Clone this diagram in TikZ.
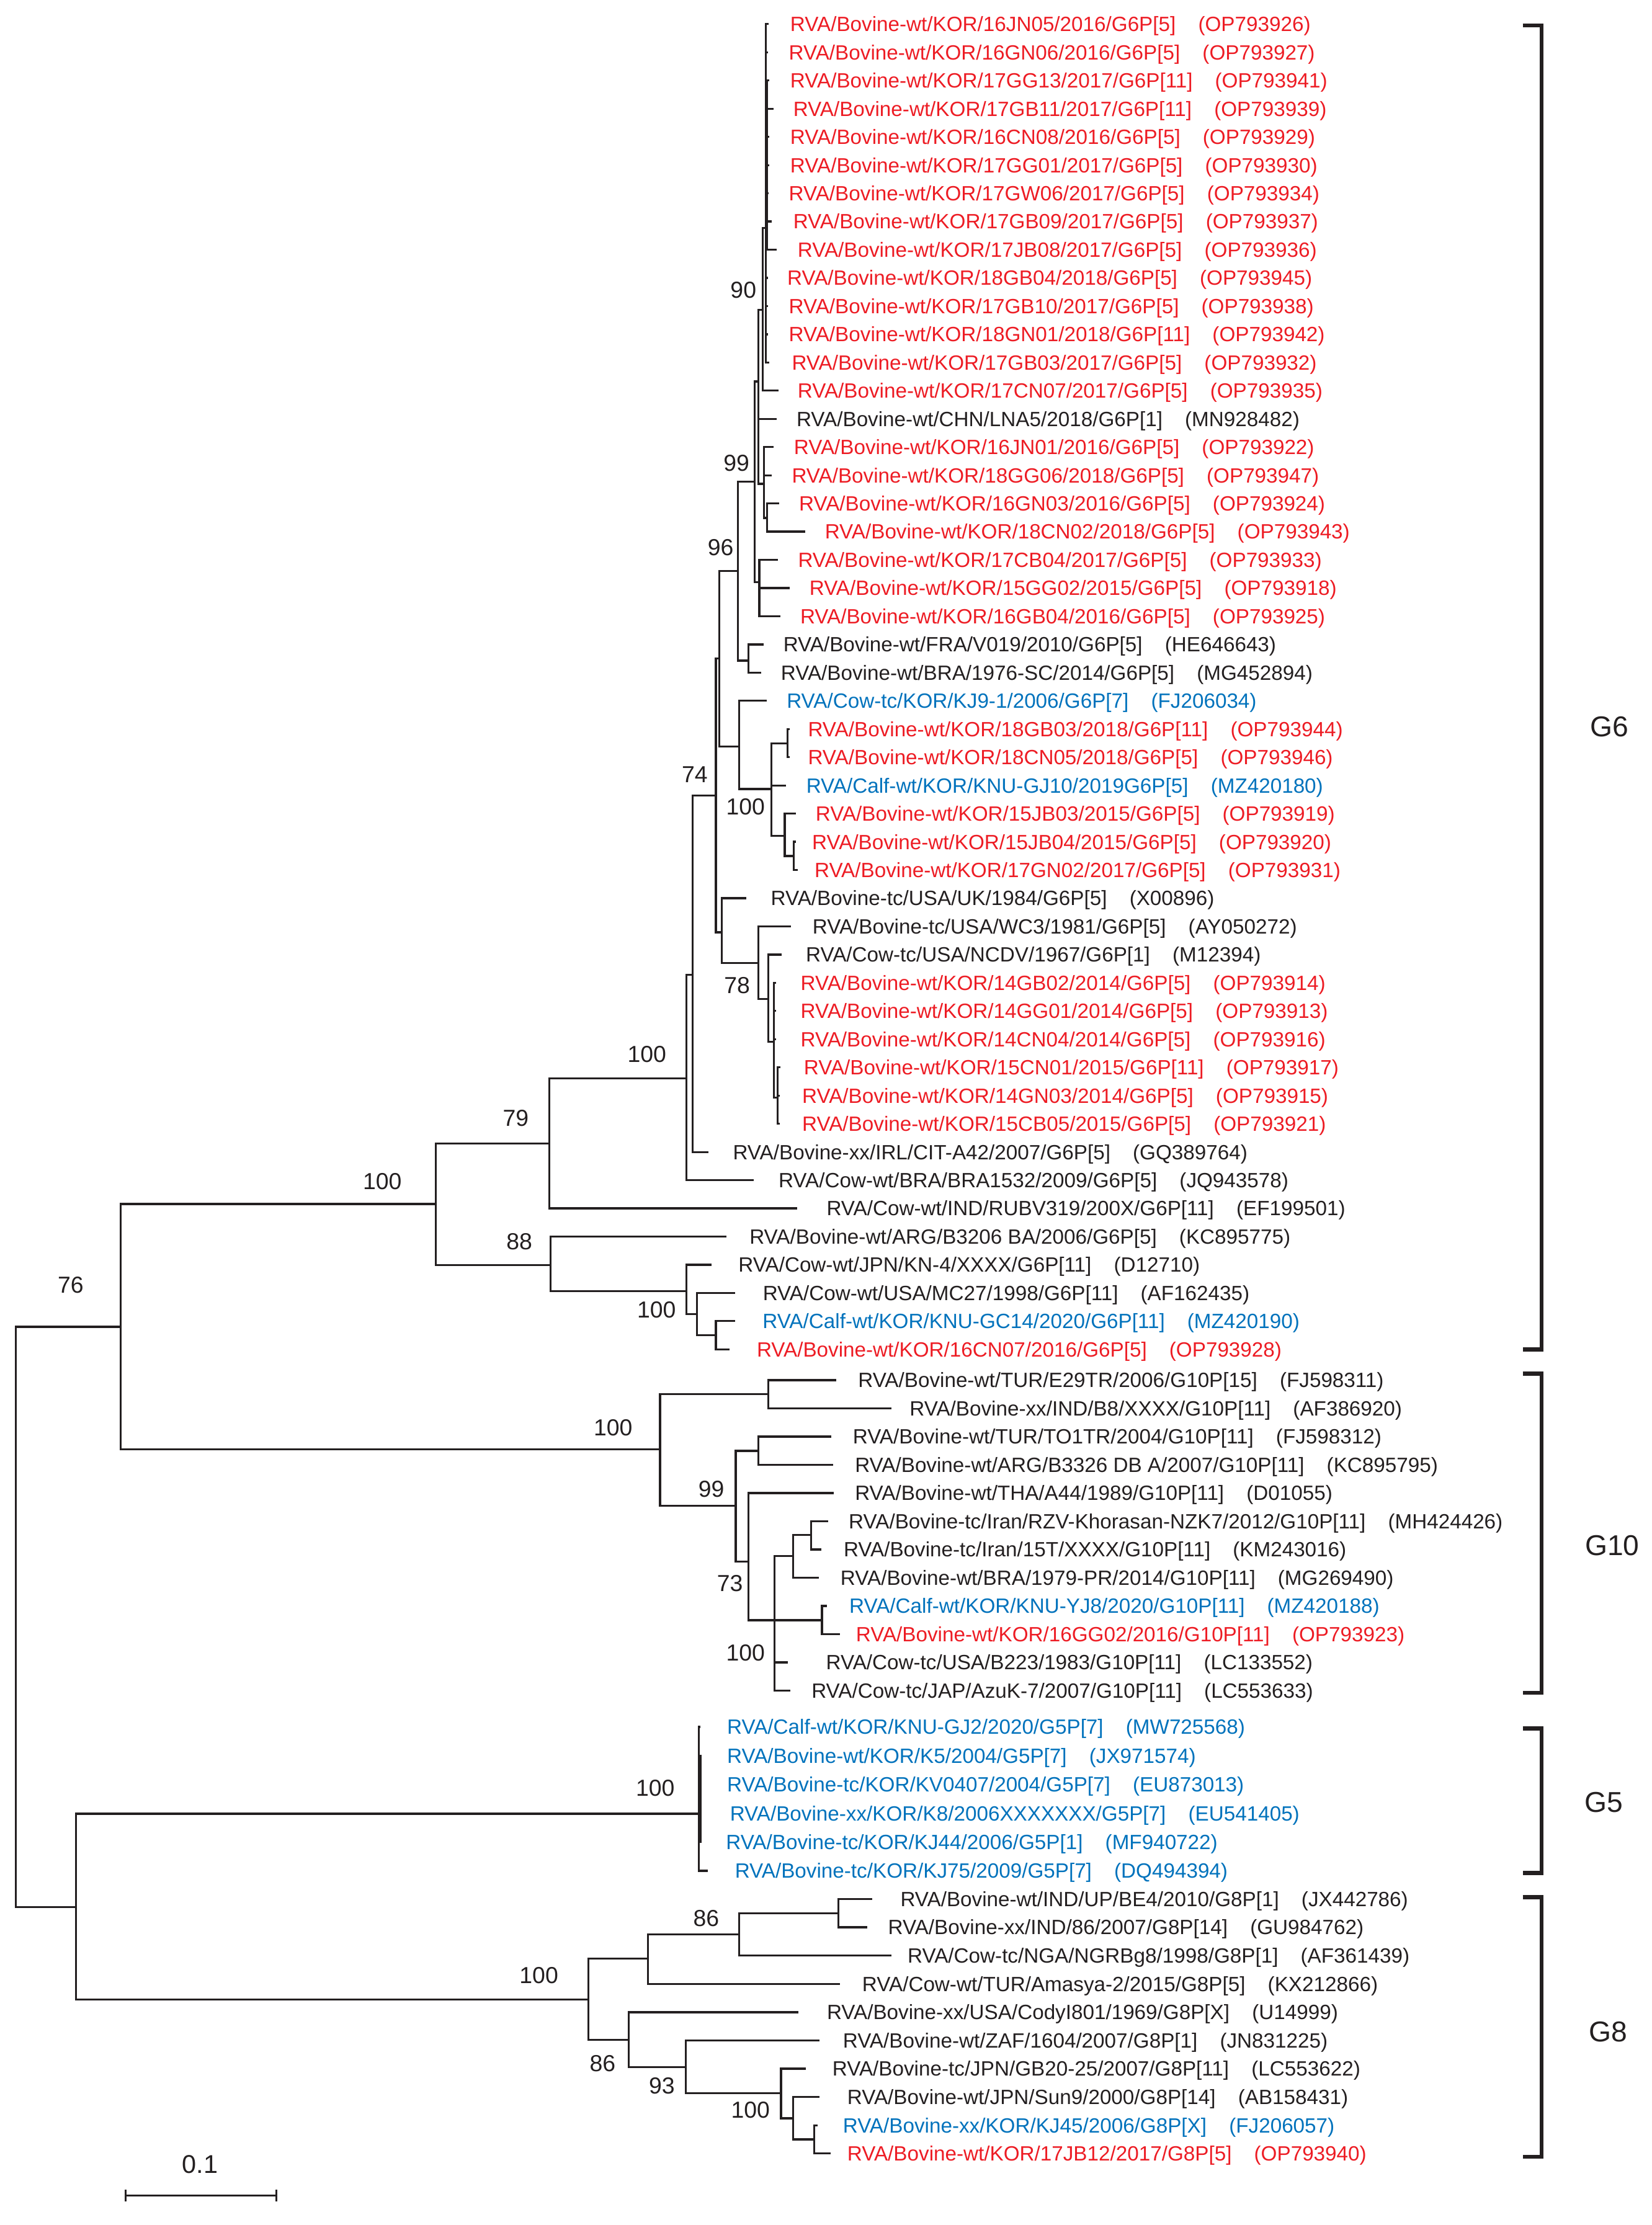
\documentclass[tikz,border=0pt]{standalone}
\usepackage{fontspec}
\setmainfont{Liberation Sans}
\definecolor{rvred}{RGB}{237,28,36}
\definecolor{rvblue}{RGB}{0,114,188}
\definecolor{ink}{RGB}{35,31,32}
\newcommand\leafnode[5]{\node[leaf,text=#2] (n#1) at (#3,0 |- t#1) {#4\hspace{9pt}(#5)};}
\tikzset{
  branch/.style={draw=ink, line width=0.8pt},
  leaf/.style={anchor=base west, inner sep=0pt, outer sep=0pt, yshift=-2.96pt, font=\fontsize{8.27}{9.8}\selectfont},
  boot/.style={inner sep=0pt, text=ink, font=\fontsize{9.3}{11}\selectfont},
  grp/.style={inner sep=0pt, text=ink, font=\fontsize{11.5}{13}\selectfont},
  bracket/.style={draw=ink, line width=1.6pt},
}
\begin{document}
\begin{tikzpicture}[x=0.02cm,y=-0.02cm]
\useasboundingbox (0,0) rectangle (1164,1568);
% internal nodes
\foreach \nm/\x/\y in {R0/11/1139.5, A/85/935, B/307/848.5, C/387/806, D/388/891.5, E/483.7/910, F/491/926, G/504.4/941, I/483.6/760, J/488/687, K/504.4/560.5, LL/508.5/657, M/534.5/678.6, N/541.3/704, O/545.2/734, P/547.8/773.5, Q/507/464, R/520/402.5, S/521/526, T/531.8/339.5, U/527.4/465.5, X1/534.4/268.8, Y/538.4/341, AA/540.5/365, Z/535/410.4, V/537.6/218.5, Va/539.6/160.5, Vb/540.6/116, AB/543.5/556, AC/555.1/524, AD/553/589, AE/559.2/603.2, GA/465.1/1021.5, GB/541.3/982.5, GC/518.4/1061, GD/534.4/1022.4, GE/527.4/1100.4, GF/545.6/1141.8, GG/558.8/1096.5, GI/571.4/1081.8, GH/579.2/1141.8, H/53.5/1344, G5/492.5/1278.2, G5a/493.8/1267, GJ/414.5/1409, GK/456.6/1380.3, GL/521/1363.3, GM/590.8/1348.2, GN/443/1437.5, GO/483.2/1456.6, GP/550.3/1475.2, GQ/558.9/1492.8, GR/573.7/1507.7}
  \coordinate (\nm) at (\x,\y);
% leaf tips
\foreach \nm/\x/\y in {t1/541.7/17.0, t2/541.3/36.87, t3/542/56.74, t4/544.9/76.61, t5/542/96.48, t6/542/116.35, t7/541.8/136.22, t8/544/156.09, t9/547.5/175.96, t10/541.3/195.83, t11/541.3/215.7, t12/541.3/235.57, t13/542/255.44, t14/548.6/275.31, t15/547.1/295.18, t16/545/315.05, t17/544/334.92, t18/549/354.79, t19/567.5/374.66, t20/548.1/394.53, t21/556.3/414.4, t22/550/434.27, t23/538/454.14, t24/536.2/474.01, t25/540.3/493.88, t26/556.5/513.75, t27/556.5/533.62, t28/554/553.49, t29/561/573.36, t30/561/593.23, t31/562/613.1, t32/526/632.97, t33/557.3/652.84, t34/550.7/672.71, t35/547/692.58, t36/547/712.45, t37/547/732.32, t38/550/752.19, t39/549.5/772.06, t40/549.5/791.93, t41/499/811.8, t42/531/831.67, t43/561.7/851.54, t44/511.7/871.41, t45/501.2/891.28, t46/518/911.15, t47/518/931.02, t48/514/950.89, t49/589.4/972.6, t50/628/992.5, t51/585.7/1012.4, t52/587.2/1032.3, t53/587.6/1052.2, t54/583.5/1072.1, t55/578.7/1091.9, t56/577/1111.8, t57/582.8/1131.7, t58/591.8/1151.6, t59/555.1/1171.5, t60/556.9/1191.4, t61/493.5/1217, t62/494.5/1237.3, t63/494.5/1257.5, t64/494.5/1277.8, t65/494.5/1298.1, t66/498.7/1318.4, t67/614.6/1338.3, t68/610.9/1358.2, t69/628/1378.1, t70/591.8/1398.1, t71/562.8/1418, t72/577.6/1437.9, t73/567.8/1457.8, t74/577.6/1477.7, t75/576/1497.7, t76/585.4/1517.6}
  \coordinate (\nm) at (\x,\y);
% branches
\foreach \p/\c in {R0/A, R0/H, A/B, A/GA, B/C, B/D, C/I, C/t43, I/J, I/t42, J/K, J/t41, K/Q, K/LL, LL/t32, LL/M, M/t33, M/N, N/t34, N/O, O/t35, O/t36, O/t37, O/P, P/t38, P/t39, P/t40, Q/R, Q/S, R/T, R/U, U/t23, U/t24, T/X1, T/Z, X1/V, X1/t15, X1/Y, Y/t16, Y/t17, Y/AA, AA/t18, AA/t19, Z/t20, Z/t21, Z/t22, V/Va, V/t14, Va/t1, Va/t2, Va/Vb, Va/t10, Va/t11, Va/t12, Va/t13, Vb/t3, Vb/t4, Vb/t5, Vb/t6, Vb/t7, Vb/t8, Vb/t9, S/t25, S/AB, AB/AC, AB/t28, AB/AD, AC/t26, AC/t27, AD/t29, AD/AE, AE/t30, AE/t31, D/t44, D/E, E/t45, E/F, F/t46, F/G, G/t47, G/t48, GA/GB, GA/GC, GB/t49, GB/t50, GC/GD, GC/GE, GD/t51, GD/t52, GE/t53, GE/GF, GF/GG, GF/GH, GF/t59, GF/t60, GG/GI, GG/t56, GI/t54, GI/t55, GH/t57, GH/t58, H/G5, H/GJ, G5/t61, G5/G5a, G5/t66, G5a/t62, G5a/t63, G5a/t64, G5a/t65, GJ/GK, GJ/GN, GK/GL, GK/t70, GL/GM, GL/t69, GM/t67, GM/t68, GN/t71, GN/GO, GO/t72, GO/GP, GP/t73, GP/GQ, GQ/t74, GQ/GR, GR/t75, GR/t76}
  \draw[branch] (\p) |- (\c);
% leaf labels
\leafnode{1}{rvred}{556.9}{RVA/Bovine-wt/KOR/16JN05/2016/G6P[5]}{OP793926}
\leafnode{2}{rvred}{555.9}{RVA/Bovine-wt/KOR/16GN06/2016/G6P[5]}{OP793927}
\leafnode{3}{rvred}{556.9}{RVA/Bovine-wt/KOR/17GG13/2017/G6P[11]}{OP793941}
\leafnode{4}{rvred}{559}{RVA/Bovine-wt/KOR/17GB11/2017/G6P[11]}{OP793939}
\leafnode{5}{rvred}{556.9}{RVA/Bovine-wt/KOR/16CN08/2016/G6P[5]}{OP793929}
\leafnode{6}{rvred}{556.9}{RVA/Bovine-wt/KOR/17GG01/2017/G6P[5]}{OP793930}
\leafnode{7}{rvred}{555.9}{RVA/Bovine-wt/KOR/17GW06/2017/G6P[5]}{OP793934}
\leafnode{8}{rvred}{559}{RVA/Bovine-wt/KOR/17GB09/2017/G6P[5]}{OP793937}
\leafnode{9}{rvred}{562.1}{RVA/Bovine-wt/KOR/17JB08/2017/G6P[5]}{OP793936}
\leafnode{10}{rvred}{554.8}{RVA/Bovine-wt/KOR/18GB04/2018/G6P[5]}{OP793945}
\leafnode{11}{rvred}{555.9}{RVA/Bovine-wt/KOR/17GB10/2017/G6P[5]}{OP793938}
\leafnode{12}{rvred}{555.9}{RVA/Bovine-wt/KOR/18GN01/2018/G6P[11]}{OP793942}
\leafnode{13}{rvred}{558}{RVA/Bovine-wt/KOR/17GB03/2017/G6P[5]}{OP793932}
\leafnode{14}{rvred}{562.1}{RVA/Bovine-wt/KOR/17CN07/2017/G6P[5]}{OP793935}
\leafnode{15}{ink}{561.3}{RVA/Bovine-wt/CHN/LNA5/2018/G6P[1]}{MN928482}
\leafnode{16}{rvred}{559.5}{RVA/Bovine-wt/KOR/16JN01/2016/G6P[5]}{OP793922}
\leafnode{17}{rvred}{558}{RVA/Bovine-wt/KOR/18GG06/2018/G6P[5]}{OP793947}
\leafnode{18}{rvred}{563.1}{RVA/Bovine-wt/KOR/16GN03/2016/G6P[5]}{OP793924}
\leafnode{19}{rvred}{581.3}{RVA/Bovine-wt/KOR/18CN02/2018/G6P[5]}{OP793943}
\leafnode{20}{rvred}{562.4}{RVA/Bovine-wt/KOR/17CB04/2017/G6P[5]}{OP793933}
\leafnode{21}{rvred}{570.4}{RVA/Bovine-wt/KOR/15GG02/2015/G6P[5]}{OP793918}
\leafnode{22}{rvred}{563.9}{RVA/Bovine-wt/KOR/16GB04/2016/G6P[5]}{OP793925}
\leafnode{23}{ink}{552}{RVA/Bovine-wt/FRA/V019/2010/G6P[5]}{HE646643}
\leafnode{24}{ink}{550.3}{RVA/Bovine-wt/BRA/1976-SC/2014/G6P[5]}{MG452894}
\leafnode{25}{rvblue}{554.4}{RVA/Cow-tc/KOR/KJ9-1/2006/G6P[7]}{FJ206034}
\leafnode{26}{rvred}{569.4}{RVA/Bovine-wt/KOR/18GB03/2018/G6P[11]}{OP793944}
\leafnode{27}{rvred}{569.4}{RVA/Bovine-wt/KOR/18CN05/2018/G6P[5]}{OP793946}
\leafnode{28}{rvblue}{568.2}{RVA/Calf-wt/KOR/KNU-GJ10/2019G6P[5]}{MZ420180}
\leafnode{29}{rvred}{574.8}{RVA/Bovine-wt/KOR/15JB03/2015/G6P[5]}{OP793919}
\leafnode{30}{rvred}{572.3}{RVA/Bovine-wt/KOR/15JB04/2015/G6P[5]}{OP793920}
\leafnode{31}{rvred}{574}{RVA/Bovine-wt/KOR/17GN02/2017/G6P[5]}{OP793931}
\leafnode{32}{ink}{543.2}{RVA/Bovine-tc/USA/UK/1984/G6P[5]}{X00896}
\leafnode{33}{ink}{572.6}{RVA/Bovine-tc/USA/WC3/1981/G6P[5]}{AY050272}
\leafnode{34}{ink}{567.9}{RVA/Cow-tc/USA/NCDV/1967/G6P[1]}{M12394}
\leafnode{35}{rvred}{564.2}{RVA/Bovine-wt/KOR/14GB02/2014/G6P[5]}{OP793914}
\leafnode{36}{rvred}{564.2}{RVA/Bovine-wt/KOR/14GG01/2014/G6P[5]}{OP793913}
\leafnode{37}{rvred}{564.2}{RVA/Bovine-wt/KOR/14CN04/2014/G6P[5]}{OP793916}
\leafnode{38}{rvred}{566.5}{RVA/Bovine-wt/KOR/15CN01/2015/G6P[11]}{OP793917}
\leafnode{39}{rvred}{565.3}{RVA/Bovine-wt/KOR/14GN03/2014/G6P[5]}{OP793915}
\leafnode{40}{rvred}{565.3}{RVA/Bovine-wt/KOR/15CB05/2015/G6P[5]}{OP793921}
\leafnode{41}{ink}{516.5}{RVA/Bovine-xx/IRL/CIT-A42/2007/G6P[5]}{GQ389764}
\leafnode{42}{ink}{548.6}{RVA/Cow-wt/BRA/BRA1532/2009/G6P[5]}{JQ943578}
\leafnode{43}{ink}{582.5}{RVA/Cow-wt/IND/RUBV319/200X/G6P[11]}{EF199501}
\leafnode{44}{ink}{528.2}{RVA/Bovine-wt/ARG/B3206 BA/2006/G6P[5]}{KC895775}
\leafnode{45}{ink}{520.4}{RVA/Cow-wt/JPN/KN-4/XXXX/G6P[11]}{D12710}
\leafnode{46}{ink}{537.6}{RVA/Cow-wt/USA/MC27/1998/G6P[11]}{AF162435}
\leafnode{47}{rvblue}{537.4}{RVA/Calf-wt/KOR/KNU-GC14/2020/G6P[11]}{MZ420190}
\leafnode{48}{rvred}{533.3}{RVA/Bovine-wt/KOR/16CN07/2016/G6P[5]}{OP793928}
\leafnode{49}{ink}{604.7}{RVA/Bovine-wt/TUR/E29TR/2006/G10P[15]}{FJ598311}
\leafnode{50}{ink}{641}{RVA/Bovine-xx/IND/B8/XXXX/G10P[11]}{AF386920}
\leafnode{51}{ink}{601}{RVA/Bovine-wt/TUR/TO1TR/2004/G10P[11]}{FJ598312}
\leafnode{52}{ink}{602.5}{RVA/Bovine-wt/ARG/B3326 DB A/2007/G10P[11]}{KC895795}
\leafnode{53}{ink}{602.5}{RVA/Bovine-wt/THA/A44/1989/G10P[11]}{D01055}
\leafnode{54}{ink}{598.1}{RVA/Bovine-tc/Iran/RZV-Khorasan-NZK7/2012/G10P[11]}{MH424426}
\leafnode{55}{ink}{594.5}{RVA/Bovine-tc/Iran/15T/XXXX/G10P[11]}{KM243016}
\leafnode{56}{ink}{592.3}{RVA/Bovine-wt/BRA/1979-PR/2014/G10P[11]}{MG269490}
\leafnode{57}{rvblue}{598.5}{RVA/Calf-wt/KOR/KNU-YJ8/2020/G10P[11]}{MZ420188}
\leafnode{58}{rvred}{603.2}{RVA/Bovine-wt/KOR/16GG02/2016/G10P[11]}{OP793923}
\leafnode{59}{ink}{582.1}{RVA/Cow-tc/USA/B223/1983/G10P[11]}{LC133552}
\leafnode{60}{ink}{571.9}{RVA/Cow-tc/JAP/AzuK-7/2007/G10P[11]}{LC553633}
\leafnode{61}{rvblue}{512.4}{RVA/Calf-wt/KOR/KNU-GJ2/2020/G5P[7]}{MW725568}
\leafnode{62}{rvblue}{512.4}{RVA/Bovine-wt/KOR/K5/2004/G5P[7]}{JX971574}
\leafnode{63}{rvblue}{512.4}{RVA/Bovine-tc/KOR/KV0407/2004/G5P[7]}{EU873013}
\leafnode{64}{rvblue}{514.4}{RVA/Bovine-xx/KOR/K8/2006XXXXXXX/G5P[7]}{EU541405}
\leafnode{65}{rvblue}{511.6}{RVA/Bovine-tc/KOR/KJ44/2006/G5P[1]}{MF940722}
\leafnode{66}{rvblue}{517.9}{RVA/Bovine-tc/KOR/KJ75/2009/G5P[7]}{DQ494394}
\leafnode{67}{ink}{634.5}{RVA/Bovine-wt/IND/UP/BE4/2010/G8P[1]}{JX442786}
\leafnode{68}{ink}{625.8}{RVA/Bovine-xx/IND/86/2007/G8P[14]}{GU984762}
\leafnode{69}{ink}{639.6}{RVA/Cow-tc/NGA/NGRBg8/1998/G8P[1]}{AF361439}
\leafnode{70}{ink}{607.6}{RVA/Cow-wt/TUR/Amasya-2/2015/G8P[5]}{KX212866}
\leafnode{71}{ink}{582.7}{RVA/Bovine-xx/USA/CodyI801/1969/G8P[X]}{U14999}
\leafnode{72}{ink}{594}{RVA/Bovine-wt/ZAF/1604/2007/G8P[1]}{JN831225}
\leafnode{73}{ink}{586.6}{RVA/Bovine-tc/JPN/GB20-25/2007/G8P[11]}{LC553622}
\leafnode{74}{ink}{597.1}{RVA/Bovine-wt/JPN/Sun9/2000/G8P[14]}{AB158431}
\leafnode{75}{rvblue}{594}{RVA/Bovine-xx/KOR/KJ45/2006/G8P[X]}{FJ206057}
\leafnode{76}{rvred}{597.1}{RVA/Bovine-wt/KOR/17JB12/2017/G8P[5]}{OP793940}
% bootstrap values
\node[boot] (b1) at (523.8,204.6) {90};
\node[boot] (b2) at (518.9,326.5) {99};
\node[boot] (b3) at (507.8,386) {96};
\node[boot] (b4) at (489.5,546) {74};
\node[boot] (b5) at (525.3,568.4) {100};
\node[boot] (b6) at (519.4,694.6) {78};
\node[boot] (b7) at (455.8,743) {100};
\node[boot] (b8) at (363.4,788.1) {79};
\node[boot] (b9) at (269.4,832.4) {100};
\node[boot] (b10) at (365.9,874.8) {88};
\node[boot] (b11) at (462.6,923.2) {100};
\node[boot] (b12) at (49.8,905.5) {76};
\node[boot] (b13) at (432,1006) {100};
\node[boot] (b14) at (501.2,1049.6) {99};
\node[boot] (b15) at (514.3,1115.9) {73};
\node[boot] (b16) at (525.3,1164.7) {100};
\node[boot] (b17) at (461.7,1260.2) {100};
\node[boot] (b18) at (497.6,1351.9) {86};
\node[boot] (b19) at (379.7,1392.2) {100};
\node[boot] (b20) at (424.6,1454) {86};
\node[boot] (b21) at (466.4,1470) {93};
\node[boot] (b22) at (528.8,1486.8) {100};
% group brackets
\foreach \g/\top/\bot in {g6/18/951, g10/968/1193, g5/1218/1320, g8/1337/1520}{
  \coordinate (\g a) at (1073,\top);
  \coordinate (\g b) at (1073,\bot);
  \coordinate (\g m) at (1086.2,{(\top+\bot)/2});
  \draw[bracket] (\g a) -| (\g m) |- (\g b);
}
\node[grp] (G6lab) at (1134,512) {G6};
\node[grp] (G10lab) at (1136,1089) {G10};
\node[grp] (G5lab) at (1130,1270) {G5};
\node[grp] (G8lab) at (1133,1432) {G8};
% scale bar
\coordinate (sb1) at (88.4,1547.3);
\coordinate (sb2) at (194.8,1547.3);
\draw[branch] (sb1) -- (sb2);
\draw[branch] ([yshift=2.4pt]sb1) -- ([yshift=-2.4pt]sb1);
\draw[branch] ([yshift=2.4pt]sb2) -- ([yshift=-2.4pt]sb2);
\node[inner sep=0pt, text=ink, font=\fontsize{10.3}{12}\selectfont] (scalelab) at (141,1525.2) {0.1};
\end{tikzpicture}
\end{document}
